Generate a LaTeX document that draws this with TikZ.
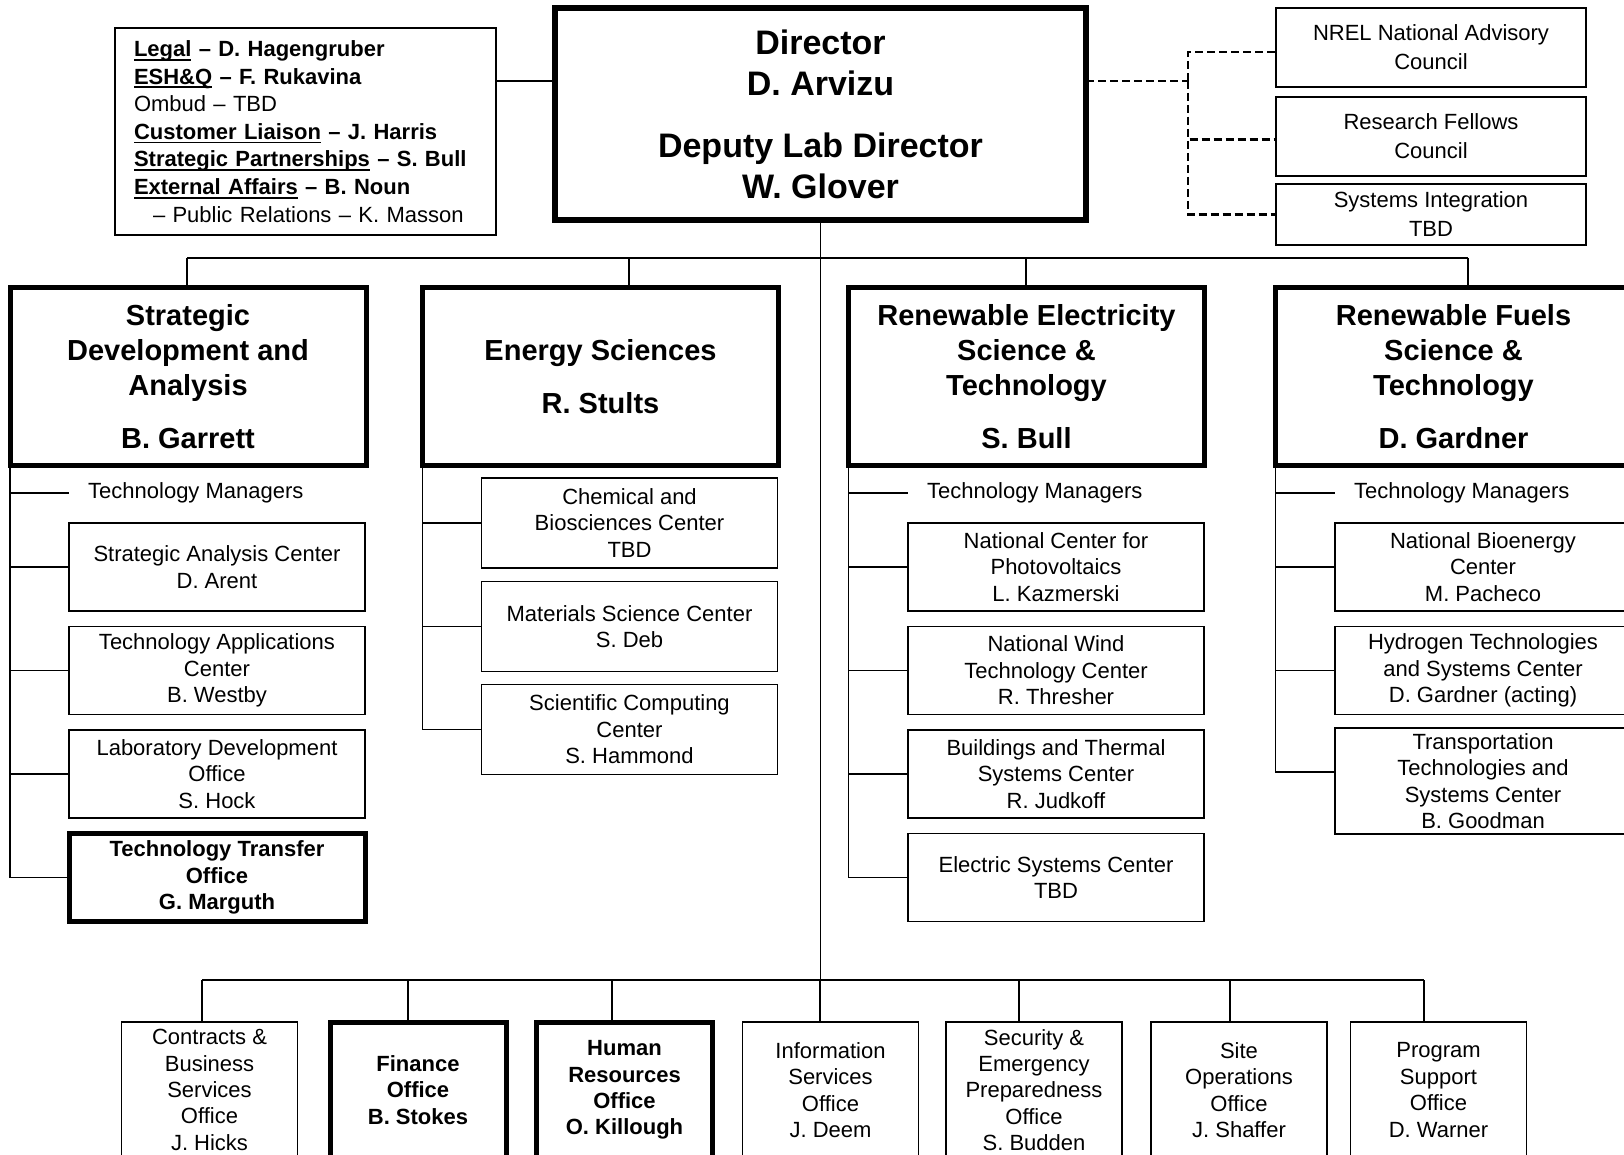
\documentclass[tikz,border=0pt]{standalone}
\usepackage{fontspec}
\setmainfont{Liberation Sans}
\usetikzlibrary{calc}
\newcommand{\fsz}[2]{\fontsize{#1pt}{#2pt}\selectfont}
\newcommand{\undl}[1]{\leavevmode\setbox0=\hbox{#1}\rlap{\rule[-4pt]{\wd0}{1.8pt}}\box0\relax}
\tikzset{
  thinbox/.style={draw, line width=1.6pt, align=center, inner sep=0pt, outer sep=0pt, font=\fsz{22}{26.4}},
  leadbox/.style={thinbox, line width=5pt, font=\bfseries\fsz{22}{26.4}},
  dirbox/.style={draw, line width=6pt, align=center, inner sep=0pt, outer sep=0pt, minimum width=531pt, minimum height=212pt, font=\bfseries\fsz{34}{41}},
  divbox/.style={draw, line width=5pt, align=center, inner sep=0pt, outer sep=0pt, minimum width=356pt, minimum height=177pt, font=\bfseries\fsz{29}{35}},
  councilbox/.style={thinbox, minimum width=310pt, font=\fsz{22}{29}},
  centerbox/.style={thinbox, minimum width=296pt, minimum height=88pt},
  officebox/.style={thinbox, minimum width=176pt, minimum height=136pt},
  mgrlabel/.style={anchor=west, inner sep=0pt, font=\fsz{22}{26.4}},
  link/.style={line width=1.6pt},
  advlink/.style={line width=2.4pt, dash pattern=on 8pt off 4pt},
}
\begin{document}
\begin{tikzpicture}[x=1pt, y=-1pt]
\useasboundingbox (0,0) rectangle (1624,1155);

% director, staff offices and councils
\node[dirbox] (dir) at (820.5,114) {Director\\D. Arvizu\\[21pt]Deputy Lab Director\\W. Glover};
\node[thinbox, minimum height=207pt, text width=343pt, inner xsep=19pt, align=left, font=\bfseries\fsz{22}{27.6}] (staff) at (305.5,131.5)
  {\undl{Legal} – D. Hagengruber\\
   \undl{ESH\&Q} – F. Rukavina\\
   {\mdseries Ombud – TBD}\\
   \undl{Customer Liaison} – J. Harris\\
   \undl{Strategic Partnerships} – S. Bull\\
   \undl{External Affairs} – B. Noun\\
   {\mdseries\hspace*{19pt}– Public Relations – K. Masson}};
\node[councilbox, minimum height=79pt] (nac) at (1431,47.5) {NREL National Advisory\\Council};
\node[councilbox, minimum height=79pt] (rfc) at (1431,136.5) {Research Fellows\\Council};
\node[councilbox, minimum height=61pt] (sic) at (1431,214.5) {Systems Integration\\TBD};

\coordinate (staffy) at (0,81);
\coordinate (advsplit) at (1188,81);
\draw[link] (staff.east |- staffy) -- (dir.west |- staffy);
\draw[advlink] (dir.east |- advsplit) -- (advsplit);
\draw[advlink] (advsplit) |- ([yshift=-4.5pt]nac.west);
\draw[advlink] (advsplit) |- ([yshift=-3pt]rfc.west);
\draw[advlink] (advsplit) |- (sic.west);

% divisions
\node[divbox] (sda) at (188,376.5) {Strategic\\Development and\\Analysis\\[18pt]B. Garrett};
\node[divbox] (es) at (600.5,376.5) {Energy Sciences\\[18pt]R. Stults};
\node[divbox] (re) at (1026.5,376.5) {Renewable Electricity\\Science \&\\Technology\\[18pt]S. Bull};
\node[divbox] (rf) at (1453.5,376.5) {Renewable Fuels\\Science \&\\Technology\\[18pt]D. Gardner};

\coordinate (jsda) at (187,258);
\coordinate (jes) at (629,258);
\coordinate (jre) at (1026,258);
\coordinate (jrf) at (1468,258);
\draw[link] (jsda) -- (jrf);
\draw[link] (jsda) -- (jsda |- sda.north);
\draw[link] (jes) -- (jes |- es.north);
\draw[link] (jre) -- (jre |- re.north);
\draw[link] (jrf) -- (jrf |- rf.north);

% strategic development and analysis
\node[mgrlabel] (mgrsda) at (88,493) {Technology Managers};
\node[centerbox] (sac) at (217,567) {Strategic Analysis Center\\D. Arent};
\node[centerbox] (tac) at (217,670.5) {Technology Applications\\Center\\B. Westby};
\node[centerbox] (ldo) at (217,774) {Laboratory Development\\Office\\S. Hock};
\node[leadbox, minimum width=296pt, minimum height=88pt] (tto) at (217,877.5) {Technology Transfer\\Office\\G. Marguth};
\draw[link] (sda.south west) |- (tto.west);
\draw[link] (sda.south west |- mgrsda) -- (mgrsda -| sac.west);
\draw[link] (sda.south west |- sac.west) -- (sac.west);
\draw[link] (sda.south west |- tac.west) -- (tac.west);
\draw[link] (sda.south west |- ldo.west) -- (ldo.west);

% energy sciences
\node[centerbox, minimum height=90pt] (cbc) at (629.5,523) {Chemical and\\Biosciences Center\\TBD};
\node[centerbox, minimum height=90pt] (msc) at (629.5,626.5) {Materials Science Center\\S. Deb};
\node[centerbox, minimum height=90pt] (scc) at (629.5,729.5) {Scientific Computing\\Center\\S. Hammond};
\draw[link] (es.south west) |- (scc.west);
\draw[link] (es.south west |- cbc.west) -- (cbc.west);
\draw[link] (es.south west |- msc.west) -- (msc.west);

% renewable electricity
\node[mgrlabel] (mgrre) at (927,493) {Technology Managers};
\node[centerbox] (ncpv) at (1056,567) {National Center for\\Photovoltaics\\L. Kazmerski};
\node[centerbox] (nwtc) at (1056,670.5) {National Wind\\Technology Center\\R. Thresher};
\node[centerbox] (btsc) at (1056,774) {Buildings and Thermal\\Systems Center\\R. Judkoff};
\node[centerbox] (esc) at (1056,877.5) {Electric Systems Center\\TBD};
\draw[link] (re.south west) |- (esc.west);
\draw[link] (re.south west |- mgrre) -- (mgrre -| ncpv.west);
\draw[link] (re.south west |- ncpv.west) -- (ncpv.west);
\draw[link] (re.south west |- nwtc.west) -- (nwtc.west);
\draw[link] (re.south west |- btsc.west) -- (btsc.west);

% renewable fuels
\node[mgrlabel] (mgrrf) at (1354,493) {Technology Managers};
\node[centerbox] (nbc) at (1483,567) {National Bioenergy\\Center\\M. Pacheco};
\node[centerbox] (htsc) at (1483,670.5) {Hydrogen Technologies\\and Systems Center\\D. Gardner (acting)};
\node[centerbox, minimum height=106pt] (ttsc) at (1483,781) {Transportation\\Technologies and\\Systems Center\\B. Goodman};
\draw[link] (rf.south west) |- ([yshift=9pt]ttsc.west);
\draw[link] (rf.south west |- mgrrf) -- (mgrrf -| nbc.west);
\draw[link] (rf.south west |- nbc.west) -- (nbc.west);
\draw[link] (rf.south west |- htsc.west) -- (htsc.west);

% support offices
\node[officebox] (cbs) at (209.5,1090) {Contracts \&\\Business\\Services\\Office\\J. Hicks};
\node[leadbox, minimum width=176pt, minimum height=136pt] (fin) at (418,1090) {Finance\\Office\\B. Stokes};
\node[leadbox, minimum width=176pt, minimum height=136pt] (hro) at (624.5,1090) {Human\\Resources\\Office\\O. Killough};
\node[officebox] (iso) at (830.5,1090) {Information\\Services\\Office\\J. Deem};
\node[officebox] (sep) at (1034,1090) {Security \&\\Emergency\\Preparedness\\Office\\S. Budden};
\node[officebox] (sop) at (1239,1090) {Site\\Operations\\Office\\J. Shaffer};
\node[officebox] (pso) at (1438.5,1090) {Program\\Support\\Office\\D. Warner};

\coordinate (jcbs) at (202,980);
\coordinate (jfin) at (408,980);
\coordinate (jhro) at (612,980);
\coordinate (jiso) at (820,980);
\coordinate (jsep) at (1019,980);
\coordinate (jsop) at (1230,980);
\coordinate (jpso) at (1424,980);
\draw[link] (dir.south) -- (dir.south |- jcbs);
\draw[link] (jcbs) -- (jpso);
\draw[link] (jcbs) -- (jcbs |- cbs.north);
\draw[link] (jfin) -- (jfin |- fin.north);
\draw[link] (jhro) -- (jhro |- hro.north);
\draw[link] (jiso) -- (jiso |- iso.north);
\draw[link] (jsep) -- (jsep |- sep.north);
\draw[link] (jsop) -- (jsop |- sop.north);
\draw[link] (jpso) -- (jpso |- pso.north);
\end{tikzpicture}
\end{document}
